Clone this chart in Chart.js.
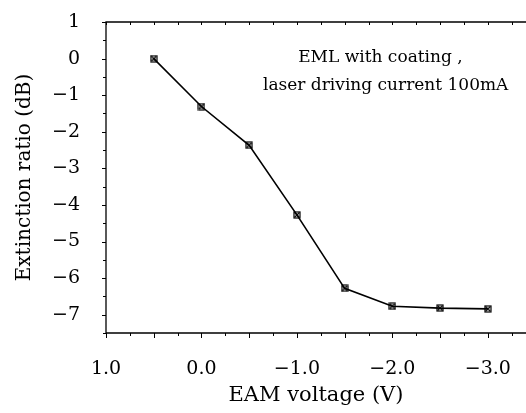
<!DOCTYPE html>
<html>
<head>
<meta charset="utf-8">
<script src="https://cdn.jsdelivr.net/npm/chart.js@4.4.1/dist/chart.umd.min.js"></script>
<style>
  html, body { margin: 0; padding: 0; background: #fff; }
  #wrap { width: 526px; height: 413px; }
</style>
</head>
<body>
<div id="wrap"><canvas id="c" width="526" height="413"></canvas></div>
<script>
// ---- data ----
const voltages = [0.5, 0.0, -0.5, -1.0, -1.5, -2.0, -2.5, -3.0];
const extinction = [0.0, -1.31, -2.37, -4.27, -6.28, -6.77, -6.82, -6.84];
const xTickValues = [1, 0, -1, -2, -3];
const yTickValues = [1, 0, -1, -2, -3, -4, -5, -6, -7];
const annotationLines = ['EML with coating ,', 'laser driving current 100mA'];

const FONT = "'DejaVu Serif', 'Liberation Serif', serif";

function fmtNum(v, dec) {
  const s = Math.abs(v).toFixed(dec);
  return (v < 0 ? '\u2212' : '') + s;
}

// marker: small square with an X inside
function makeMarker() {
  const m = document.createElement('canvas');
  m.width = 8; m.height = 8;
  const g = m.getContext('2d');
  g.strokeStyle = '#000';
  g.lineWidth = 1.2;
  g.strokeRect(1, 1, 6, 6);
  g.beginPath();
  g.moveTo(1.5, 1.5); g.lineTo(6.5, 6.5);
  g.moveTo(6.5, 1.5); g.lineTo(1.5, 6.5);
  g.stroke();
  return m;
}

const framePlugin = {
  id: 'frame',
  afterDraw(chart) {
    const ctx = chart.ctx;
    const a = chart.chartArea;
    const xs = chart.scales.x, ys = chart.scales.y;
    ctx.save();
    ctx.strokeStyle = '#000';
    ctx.lineWidth = 1.3;
    ctx.beginPath();
    ctx.moveTo(a.right, a.top); ctx.lineTo(a.left, a.top);
    ctx.lineTo(a.left, a.bottom); ctx.lineTo(a.right, a.bottom);
    ctx.stroke();
    ctx.lineWidth = 1;
    ctx.beginPath();
    // y ticks (outward, left)
    for (let k = 0; k <= 17; k++) {
      const v = 1 - k * 0.5;
      const py = Math.round(ys.getPixelForValue(v)) + 0.5;
      const len = Number.isInteger(v) ? 4 : 3;
      ctx.moveTo(a.left - len, py); ctx.lineTo(a.left, py);
    }
    // x ticks (bottom outward, top inward)
    for (let k = 0; k <= 17; k++) {
      const v = 1 - k * 0.25;
      if (v < xs.min) break;
      const px = Math.round(xs.getPixelForValue(v)) + 0.5;
      const half = Math.abs(v * 2 - Math.round(v * 2)) < 1e-6;
      const lb = half ? 5 : 3;
      ctx.moveTo(px, a.bottom); ctx.lineTo(px, a.bottom + lb);
      ctx.moveTo(px, a.top); ctx.lineTo(px, a.top + 3);
    }
    ctx.stroke();
    // annotation
    ctx.fillStyle = '#000';
    ctx.font = "17px " + FONT;
    ctx.textAlign = 'center';
    ctx.textBaseline = 'middle';
    ctx.fillText(annotationLines[0], xs.getPixelForValue(-1.875), ys.getPixelForValue(0.04));
    ctx.fillText(annotationLines[1], xs.getPixelForValue(-1.93), ys.getPixelForValue(-0.73));
    ctx.restore();
  }
};

new Chart(document.getElementById('c'), {
  type: 'line',
  data: {
    datasets: [{
      data: voltages.map((v, i) => ({ x: v, y: extinction[i] })),
      borderColor: '#000',
      borderWidth: 1.6,
      pointStyle: makeMarker(),
      pointRadius: 4,
      tension: 0,
      fill: false
    }]
  },
  options: {
    responsive: false,
    animation: false,
    devicePixelRatio: 1,
    layout: { autoPadding: false, padding: { top: 22, right: 0, left: 0, bottom: 0 } },
    plugins: { legend: { display: false }, tooltip: { enabled: false } },
    scales: {
      x: {
        type: 'linear',
        reverse: true,
        min: -3.4,
        max: 1.0,
        grid: { display: false, drawTicks: false },
        border: { display: false },
        afterBuildTicks(scale) { scale.ticks = xTickValues.map(v => ({ value: v })); },
        afterFit(scale) { scale.height = 80; scale.paddingLeft = 0; scale.paddingRight = 0; },
        ticks: {
          color: '#000',
          font: { family: FONT, size: 19 },
          padding: 25,
          maxRotation: 0,
          autoSkip: false,
          callback: (v) => fmtNum(v, 1)
        },
        title: {
          display: true,
          text: 'EAM voltage (V)',
          color: '#000',
          font: { family: FONT, size: 21 },
          padding: { top: 5, bottom: 5 }
        }
      },
      y: {
        type: 'linear',
        min: -7.5,
        max: 1,
        grid: { display: false, drawTicks: false },
        border: { display: false },
        afterBuildTicks(scale) { scale.ticks = yTickValues.map(v => ({ value: v })); },
        afterFit(scale) { scale.width = 106; scale.paddingTop = 0; scale.paddingBottom = 0; },
        ticks: {
          color: '#000',
          font: { family: FONT, size: 19 },
          padding: 26,
          autoSkip: false,
          callback: (v) => fmtNum(v, 0)
        },
        title: {
          display: true,
          text: 'Extinction ratio (dB)',
          color: '#000',
          font: { family: FONT, size: 20 },
          padding: { top: 13, bottom: 13 }
        }
      }
    }
  },
  plugins: [framePlugin]
});
</script>
</body>
</html>
